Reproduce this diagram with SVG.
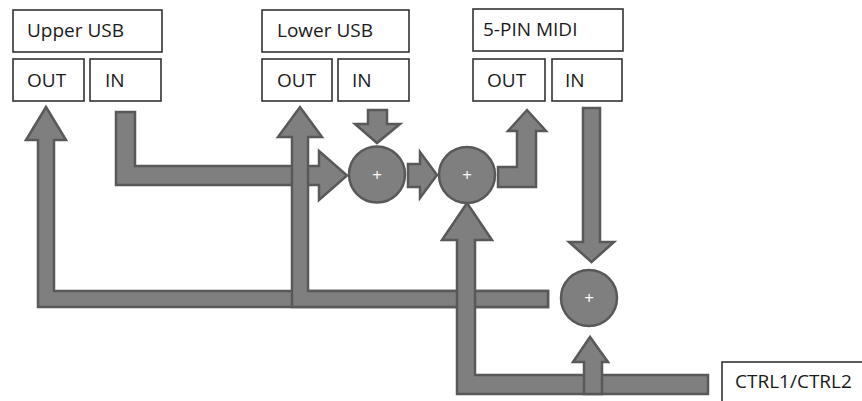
<svg xmlns="http://www.w3.org/2000/svg" width="862" height="401" viewBox="0 0 862 401">
<style>
.box{fill:#fff;stroke:#333;stroke-width:1.6}
.lbl{font-family:"Open Sans","Noto Sans",sans-serif;font-size:19px;fill:#1a1a1a}
.arr{fill:#7f7f7f;stroke:#595959;stroke-width:2.5;stroke-linejoin:miter}
.sum{fill:#7f7f7f;stroke:#595959;stroke-width:2.5}
.plus{font-family:"Open Sans","Noto Sans",sans-serif;font-size:17px;fill:#fff;text-anchor:middle}
</style>
<rect width="862" height="401" fill="#fff"/>
<g id="upper-usb"><rect class="box" x="13" y="10" width="149" height="42"/><text class="lbl" x="27" y="37">Upper USB</text></g>
<g id="upper-out"><rect class="box" x="13" y="59" width="71" height="42"/><text class="lbl" x="27" y="87">OUT</text></g>
<g id="upper-in"><rect class="box" x="90" y="59" width="71" height="42"/><text class="lbl" x="105" y="87">IN</text></g>
<g id="lower-usb"><rect class="box" x="262" y="10" width="147" height="42"/><text class="lbl" x="277" y="37">Lower USB</text></g>
<g id="lower-out"><rect class="box" x="262" y="59" width="70" height="42"/><text class="lbl" x="277" y="87">OUT</text></g>
<g id="lower-in"><rect class="box" x="338" y="59" width="71" height="42"/><text class="lbl" x="352" y="87">IN</text></g>
<g id="midi"><rect class="box" x="473" y="9" width="150" height="42"/><text class="lbl" x="483" y="36">5-PIN MIDI</text></g>
<g id="midi-out"><rect class="box" x="473" y="59" width="72" height="42"/><text class="lbl" x="487" y="87">OUT</text></g>
<g id="midi-in"><rect class="box" x="552" y="59" width="70" height="42"/><text class="lbl" x="565" y="87">IN</text></g>
<g id="ctrl"><rect class="box" x="722" y="362" width="142" height="45"/><text class="lbl" x="735" y="388">CTRL1/CTRL2</text></g>
<g id="connectors">
<polygon class="arr" points="116,112 135,112 135,166 319,166 319,151 347,175.5 319,200 319,185 116,185"/>
<polygon class="arr" points="548,291 54,291 54,140 66,140 46,107 26,140 38,140 38,307 548,307"/>
<polygon class="arr" points="548,291 308,291 308,137 322,137 300,107 278,137 292,137 292,307 548,307"/>
<polygon class="arr" points="368,110 387,110 387,124 400,124 377,143 355,124 368,124"/>
<polygon class="arr" points="408,164 420,164 420,152 437,175 420,198 420,187 408,187"/>
<polygon class="arr" points="498,167 517,167 517,131 508,131 527,110 546,131 536,131 536,187 498,187"/>
<polygon class="arr" points="583,108 600,108 600,242 614,242 591.5,262 569,242 583,242"/>
<polygon class="arr" points="708,375 475,375 475,240 492,240 467,203 442,240 457,240 457,394 708,394"/>
<polygon class="arr" points="584,394 584,362 573,362 590,337 608,362 602,362 602,394"/>
</g>
<g id="sum1"><circle class="sum" cx="377" cy="174.5" r="28"/><text class="plus" x="377" y="181">+</text></g>
<g id="sum2"><circle class="sum" cx="467" cy="175" r="28"/><text class="plus" x="467" y="181">+</text></g>
<g id="sum3"><circle class="sum" cx="589" cy="298" r="28"/><text class="plus" x="589" y="304">+</text></g>
</svg>
